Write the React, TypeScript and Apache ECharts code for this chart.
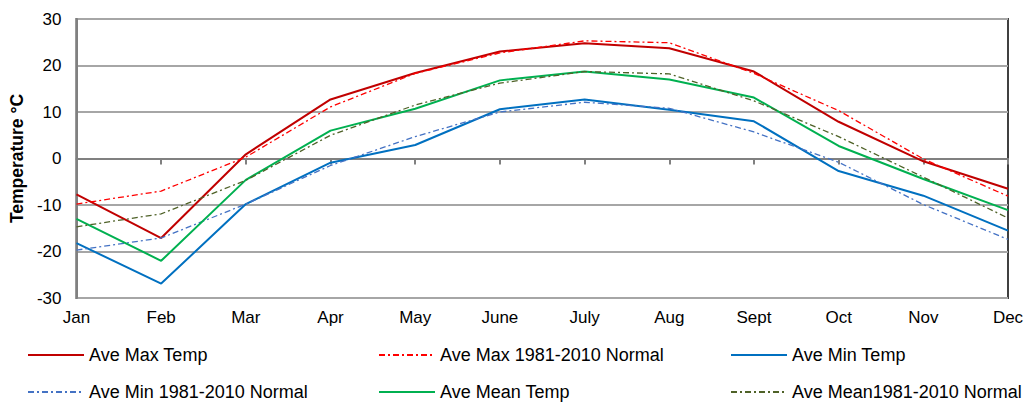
import React, { useEffect, useRef } from "react";
import * as echarts from "echarts";

const months = ["Jan", "Feb", "Mar", "Apr", "May", "June", "July", "Aug", "Sept", "Oct", "Nov", "Dec"];
const aveMax = [-7.7, -17.1, 0.9, 12.7, 18.4, 23.0, 24.8, 23.7, 18.7, 7.9, -0.6, -6.5];
const aveMaxNormal = [-9.8, -7.0, 0.3, 11.1, 18.3, 22.7, 25.3, 24.9, 18.3, 10.3, -0.1, -8.1];
const aveMin = [-18.2, -26.9, -9.8, -0.9, 2.9, 10.6, 12.7, 10.5, 8.0, -2.7, -8.0, -15.5];
const aveMinNormal = [-19.7, -17.1, -9.8, -1.5, 4.7, 10.0, 12.1, 10.8, 5.7, -0.8, -9.9, -17.4];
const aveMean = [-13.0, -22.0, -4.6, 6.0, 10.7, 16.8, 18.7, 17.0, 13.1, 2.7, -4.4, -11.1];
const aveMeanNormal = [-14.7, -11.9, -4.7, 5.0, 11.5, 16.2, 18.7, 18.2, 12.4, 4.7, -4.0, -12.8];

const seriesNames = [
  "Ave Max Temp",
  "Ave Max 1981-2010 Normal",
  "Ave Min Temp",
  "Ave Min 1981-2010 Normal",
  "Ave Mean Temp",
  "Ave Mean1981-2010 Normal",
];

const FONT = "Liberation Sans, Arial, sans-serif";
const dashDot = [6, 3, 2, 3];

export default function App() {
  const ref = useRef<HTMLDivElement>(null);
  useEffect(() => {
    if (!ref.current) return;
    const chart = echarts.init(ref.current, undefined, { renderer: "svg" });
    const solid = (name: string, data: number[], color: string) => ({
      name,
      type: "line",
      data,
      symbol: "none",
      lineStyle: { color, width: 2 },
      itemStyle: { color },
    });
    const dashed = (name: string, data: number[], color: string) => ({
      name,
      type: "line",
      data,
      symbol: "none",
      lineStyle: { color, width: 1.3, type: dashDot },
      itemStyle: { color },
    });
    const legendPos = [
      { left: 27, top: 346 },
      { left: 378, top: 346 },
      { left: 730, top: 346 },
      { left: 27, top: 383 },
      { left: 378, top: 383 },
      { left: 730, top: 383 },
    ];
    chart.setOption({
      animation: false,
      textStyle: { fontFamily: FONT },
      grid: {
        left: 75,
        right: 28,
        top: 19,
        bottom: 106,
        show: true,
        borderColor: "#404040",
        borderWidth: 2,
      },
      legend: legendPos.map((p, i) => ({
        data: [seriesNames[i]],
        left: p.left,
        top: p.top,
        padding: 0,
        itemWidth: 56,
        itemHeight: 14,
        itemStyle: { opacity: 0 },
        textStyle: { fontSize: 18, color: "#000", fontFamily: FONT },
      })),
      xAxis: {
        type: "category",
        data: months,
        boundaryGap: false,
        axisLine: { lineStyle: { color: "#808080", width: 2 } },
        axisTick: { show: true, length: 6, lineStyle: { color: "#808080", width: 2 } },
        axisLabel: { fontSize: 17, color: "#000", margin: 11, fontFamily: FONT },
        splitLine: { show: false },
      },
      yAxis: {
        type: "value",
        min: -30,
        max: 30,
        interval: 10,
        name: "Temperature °C",
        nameLocation: "middle",
        nameGap: 48,
        nameTextStyle: { fontSize: 17.5, fontWeight: "bold", color: "#000", fontFamily: FONT },
        axisLine: { show: true, lineStyle: { color: "#808080", width: 2 } },
        axisTick: { show: false },
        axisLabel: { fontSize: 17, color: "#000", margin: 15, fontFamily: FONT },
        splitLine: { show: true, lineStyle: { color: "#a6a6a6", width: 2 } },
      },
      series: [
        solid(seriesNames[0], aveMax, "#C00000"),
        dashed(seriesNames[1], aveMaxNormal, "#FF0000"),
        solid(seriesNames[2], aveMin, "#0070C0"),
        dashed(seriesNames[3], aveMinNormal, "#4472C4"),
        solid(seriesNames[4], aveMean, "#00B050"),
        dashed(seriesNames[5], aveMeanNormal, "#4F6228"),
      ],
    });
    return () => chart.dispose();
  }, []);
  return (
    <div
      ref={ref}
      style={{ position: "fixed", left: 0, top: 0, width: 1036, height: 404, background: "#fff" }}
    />
  );
}
